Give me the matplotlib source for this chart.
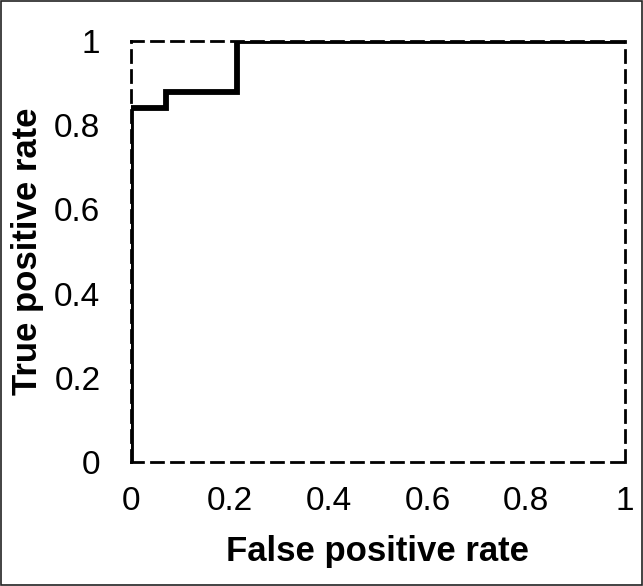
import matplotlib.pyplot as plt
from matplotlib.patches import Rectangle

plt.rcParams['font.family'] = ['Liberation Sans', 'DejaVu Sans']

# ROC step curve
fpr = [0, 0, 0.07, 0.07, 0.215, 0.215, 1]
tpr = [0, 0.84, 0.84, 0.88, 0.88, 1, 1]
ticks = [0, 0.2, 0.4, 0.6, 0.8, 1]
tick_labels = ["0", "0.2", "0.4", "0.6", "0.8", "1"]

fig = plt.figure(figsize=(6.43, 5.86), dpi=100)
ax = fig.add_axes([0.2037, 0.2116, 0.7683, 0.7184])

ax.plot(fpr, tpr, color="black", lw=4.2, solid_joinstyle="miter", zorder=3)

ax.set_xlim(0, 1)
ax.set_ylim(0, 1)
ax.set_xticks(ticks)
ax.set_xticklabels(tick_labels)
ax.set_yticks(ticks)
ax.set_yticklabels(tick_labels)
ax.tick_params(length=0, labelsize=24)
ax.tick_params(axis="y", pad=22)
ax.tick_params(axis="x", pad=17)

for s in ax.spines.values():
    s.set_linestyle((0, (4.3, 2.9)))
    s.set_linewidth(2.0)
    s.set_color("black")

ax.set_xlabel("False positive rate", fontsize=25, fontweight="bold", labelpad=13)
ax.set_ylabel("True positive rate", fontsize=25, fontweight="bold", labelpad=7)

fig.patches.append(Rectangle((0.001, 0.001), 0.997, 0.997, transform=fig.transFigure,
                             fill=False, edgecolor="#222222", lw=1.2))

fig.savefig("out.png", dpi=100)
